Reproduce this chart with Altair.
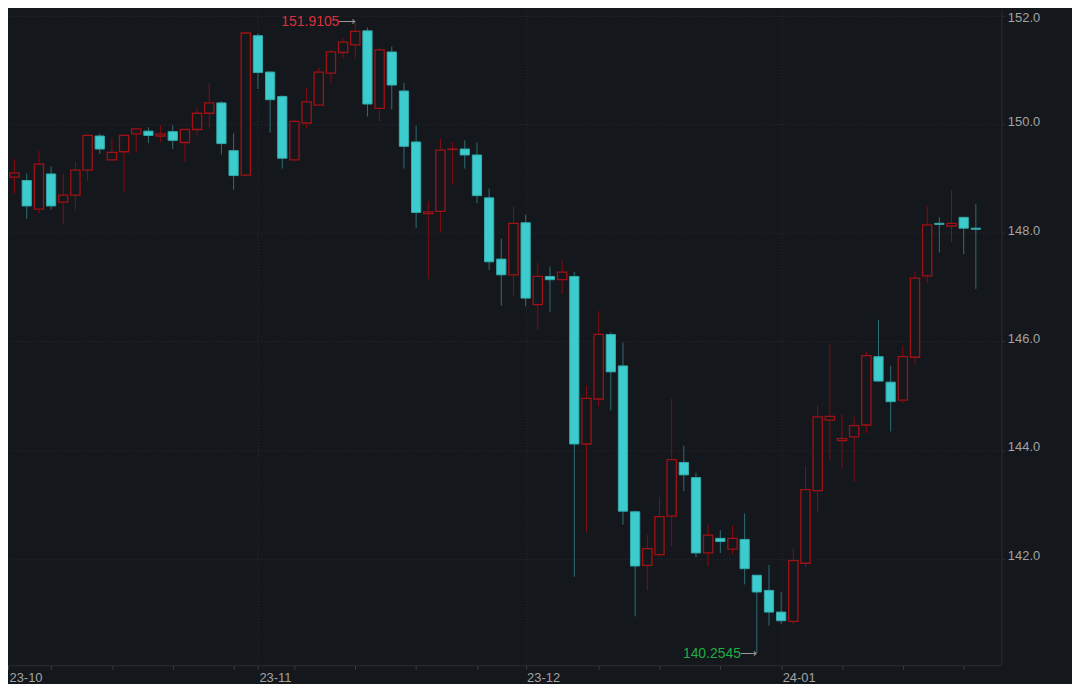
import altair as alt
import pandas as pd

# ---- data ----
dates = [d.strftime("%Y-%m-%d") for d in pd.bdate_range("2023-10-04", "2024-01-23")]

opens = [149.03, 148.97, 148.44, 149.09, 148.57, 148.70, 149.16, 149.79, 149.35, 149.50,
         149.83, 149.88, 149.79, 149.87, 149.67, 149.91, 150.21, 150.40, 149.52, 149.07,
         151.64, 150.97, 150.52, 149.35, 150.03, 150.36, 150.95, 151.33, 151.47, 151.73,
         150.30, 151.34, 150.62, 149.68, 148.36, 148.40, 149.54, 149.55, 149.44, 148.65,
         147.52, 147.23, 148.19, 146.68, 147.20, 147.14, 147.20, 144.11, 144.94, 146.13,
         145.55, 142.86, 141.87, 142.07, 142.78, 143.77, 143.49, 142.10, 142.37, 142.17,
         142.35, 141.69, 141.41, 141.01, 140.84, 141.91, 143.25, 144.55, 144.17, 144.24,
         144.46, 145.72, 145.25, 144.92, 145.71, 147.21, 148.18, 148.13, 148.29, 148.09]
highs = [149.36, 149.10, 149.52, 149.23, 149.09, 149.31, 149.82, 149.83, 149.75, 149.83,
         149.93, 149.95, 149.99, 149.99, 149.91, 150.32, 150.77, 150.43, 149.84, 151.70,
         151.68, 150.98, 150.54, 150.08, 150.68, 151.05, 151.38, 151.60, 151.9105, 151.79,
         151.42, 151.44, 150.77, 149.98, 148.59, 149.74, 149.68, 149.71, 149.67, 148.82,
         147.90, 148.50, 148.34, 147.45, 147.38, 147.49, 147.28, 145.19, 146.56, 146.17,
         145.98, 142.88, 142.43, 143.13, 144.94, 144.08, 143.58, 142.63, 142.52, 142.61,
         142.83, 141.69, 141.88, 141.38, 142.19, 143.71, 144.83, 145.95, 144.66, 144.61,
         145.81, 146.40, 145.55, 145.93, 147.30, 148.51, 148.29, 148.79, 148.30, 148.54]
lows = [148.73, 148.26, 148.36, 148.43, 148.16, 148.41, 148.96, 149.46, 149.35, 148.76,
        149.49, 149.66, 149.68, 149.55, 149.31, 149.80, 149.92, 149.45, 148.80, 149.04,
        150.66, 149.85, 149.19, 149.34, 149.94, 150.35, 150.77, 151.22, 151.21, 150.15,
        150.06, 150.28, 149.19, 148.09, 147.15, 148.02, 148.89, 149.19, 148.55, 147.32,
        146.66, 146.84, 146.65, 146.22, 146.55, 146.88, 141.66, 142.48, 144.80, 144.73,
        142.62, 140.93, 141.41, 142.05, 142.23, 143.24, 142.02, 141.85, 142.10, 142.07,
        141.52, 140.2545, 140.76, 140.79, 140.78, 141.83, 142.84, 143.79, 143.65, 143.41,
        144.31, 145.27, 144.34, 144.87, 145.58, 147.08, 147.64, 147.83, 147.61, 146.97]
closes = [149.11, 148.50, 149.27, 148.50, 148.70, 149.16, 149.80, 149.55, 149.49, 149.80,
          149.92, 149.80, 149.83, 149.71, 149.91, 150.21, 150.40, 149.65, 149.06, 151.69,
          150.96, 150.46, 149.38, 150.06, 150.42, 150.97, 151.34, 151.52, 151.72, 150.38,
          151.38, 150.73, 149.60, 148.38, 148.39, 149.53, 149.55, 149.44, 148.69, 147.47,
          147.23, 148.18, 146.80, 147.20, 147.14, 147.28, 144.11, 144.95, 146.13, 145.44,
          142.87, 141.86, 142.18, 142.77, 143.82, 143.54, 142.10, 142.43, 142.31, 142.37,
          141.81, 141.38, 141.01, 140.85, 141.96, 143.27, 144.61, 144.62, 144.21, 144.45,
          145.74, 145.27, 144.89, 145.72, 147.17, 148.15, 148.16, 148.18, 148.09, 148.07]

month_tick_idx = [-0.54, 20, 42, 63]
month_labels = ["23-10", "23-11", "23-12", "24-01"]
week_tick_idx = [3, 8, 13, 18, 23, 28, 33, 38, 48, 53, 58, 68, 73, 78]
y_ticks = [142, 144, 146, 148, 150, 152]

# ---- style ----
BG = "#14171c"
RED = "#a01215"
RED_WICK = "#850c10"
CYAN = "#3ccccd"
CYAN_EDGE = "#34a9ab"
CYAN_WICK = "#2c6f74"
GRID = "#2a2e35"
LABEL = "#a3a3a3"
FONT = "Liberation Sans"

df = pd.DataFrame({"i": list(range(len(dates))), "date": dates, "open": opens,
                   "high": highs, "low": lows, "close": closes})
df["dir"] = ["up" if c >= o else "down" for o, c in zip(opens, closes)]

imax = highs.index(max(highs))
imin = lows.index(min(lows))
ann = pd.DataFrame({"i": [imax, imin], "v": [highs[imax], lows[imin]],
                    "label": [f"{highs[imax]:.4f}", f"{lows[imin]:.4f}"],
                    "kind": ["max", "min"]})

tick_vals = sorted(set(month_tick_idx + week_tick_idx))
lab_expr = " : ".join(f"datum.value == {v} ? '{l}'" for v, l in zip(month_tick_idx, month_labels)) + " : ''"
grid_test = "indexof([" + ",".join(str(v) for v in month_tick_idx[1:]) + "], datum.value) >= 0"

x_scale = alt.Scale(domain=[-0.54, 81.1], nice=False, zero=False)
y_scale = alt.Scale(domain=[140.03, 152.116], nice=False, zero=False)

x_axis = alt.Axis(values=tick_vals, labelExpr=lab_expr, title=None, orient="bottom",
                  grid=True, gridColor=GRID, gridDash=[1, 2],
                  gridOpacity={"condition": {"test": grid_test, "value": 1}, "value": 0},
                  domainColor="#2b2e34", tickColor="#3a3e45", tickSize=4,
                  labelAlign="left", labelBaseline="top", labelPadding=2, labelOffset=1,
                  labelColor=LABEL, labelFont=FONT, labelFontSize=13,
                  labelOverlap=False, labelBound=False, labelFlush=False)
y_axis = alt.Axis(values=y_ticks, format=".1f", title=None, orient="right",
                  grid=True, gridColor=GRID, gridDash=[1, 2],
                  domainColor="#2b2e34", tickColor=GRID, tickSize=3,
                  labelPadding=3,
                  labelOffset={"condition": {"test": "datum.value >= 152", "value": 1}, "value": -3},
                  labelColor=LABEL, labelFont=FONT,
                  labelFontSize=13, labelOverlap=False, labelBound=False, labelFlush=False)

base = alt.Chart(df)

wicks = base.mark_rule(strokeWidth=1).encode(
    x=alt.X("i:Q", scale=x_scale, axis=x_axis),
    y=alt.Y("low:Q", scale=y_scale, axis=y_axis),
    y2="high:Q",
    color=alt.Color("dir:N", scale=alt.Scale(domain=["up", "down"], range=[RED_WICK, CYAN_WICK]),
                    legend=None),
)

bodies = base.transform_calculate(
    xa="datum.i - 0.38", xb="datum.i + 0.38"
)

up_bodies = bodies.transform_filter("datum.dir == 'up'").mark_bar(
    fill=BG, stroke=RED, strokeWidth=1.3
).encode(
    x=alt.X("xa:Q", scale=x_scale, axis=x_axis),
    x2="xb:Q",
    y=alt.Y("open:Q", scale=y_scale, axis=y_axis),
    y2="close:Q",
)

down_bodies = bodies.transform_filter("datum.dir == 'down'").mark_bar(
    fill=CYAN, stroke=CYAN_EDGE, strokeWidth=1
).encode(
    x=alt.X("xa:Q", scale=x_scale, axis=x_axis),
    x2="xb:Q",
    y=alt.Y("open:Q", scale=y_scale, axis=y_axis),
    y2="close:Q",
)

ann_base = alt.Chart(ann)
ann_text = ann_base.mark_text(align="right", baseline="middle", dx=-16, dy=1,
                              font=FONT, fontSize=14).encode(
    x=alt.X("i:Q", scale=x_scale, axis=x_axis),
    y=alt.Y("v:Q", scale=y_scale, axis=y_axis),
    text="label:N",
    color=alt.Color("kind:N", scale=alt.Scale(domain=["max", "min"], range=["#dc323b", "#1fae43"]),
                    legend=None),
)
ann_arrow = ann_base.mark_text(align="right", baseline="middle", dx=0, dy=0,
                               font="DejaVu Sans", fontSize=12, color="#9a9a9a",
                               text="\u27f6").encode(
    x=alt.X("i:Q", scale=x_scale, axis=x_axis),
    y=alt.Y("v:Q", scale=y_scale, axis=y_axis),
)

chart = alt.layer(wicks, up_bodies, down_bodies, ann_text, ann_arrow).resolve_scale(
    color="independent"
).properties(
    width=999, height=659,
    autosize=alt.AutoSizeParams(type="none"),
    padding={"left": 0, "top": 0, "right": 71, "bottom": 17},
).configure(background=BG).configure_view(stroke=None, fill=BG)

chart.save("out.html", embed_options={"renderer": "svg", "actions": False})
